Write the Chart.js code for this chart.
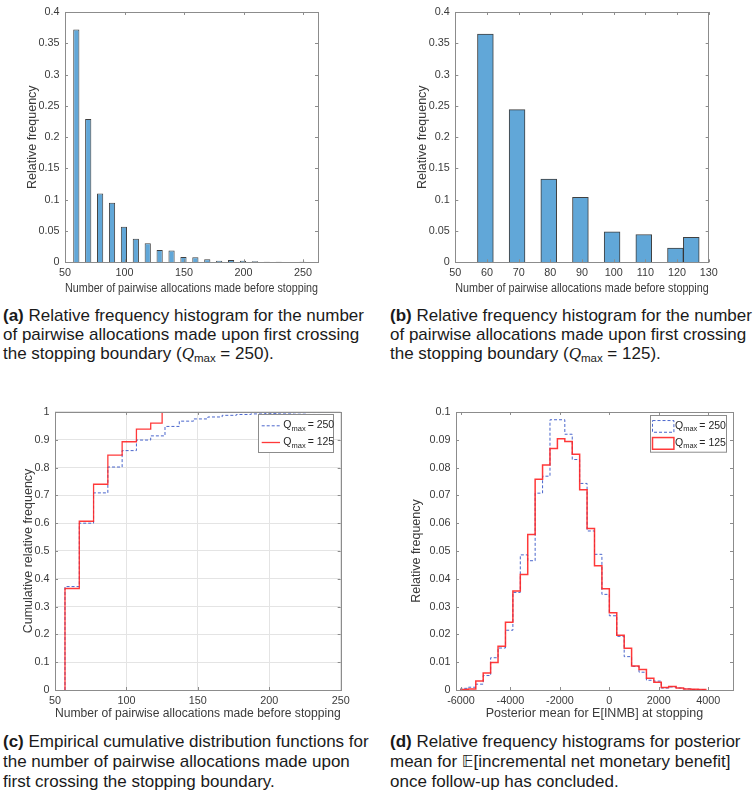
<!DOCTYPE html>
<html><head><meta charset="utf-8">
<script src="https://cdn.jsdelivr.net/npm/chart.js@4"></script>
<style>
html,body{margin:0;padding:0;background:#fff;}
body{width:754px;height:800px;position:relative;overflow:hidden;font-family:'Liberation Sans',Arial,sans-serif;}
canvas{position:absolute;}
.cap{position:absolute;font-size:17px;color:#1a1a1a;white-space:nowrap;}
.mq{font-family:'Liberation Serif','DejaVu Serif',serif;font-style:italic;}
.sb{font-size:11.5px;position:relative;top:3px;}
.bb{font-family:'DejaVu Sans',sans-serif;font-size:16px;}
</style></head><body>
<canvas id="ca" width="377" height="300" style="left:0;top:0"></canvas>
<canvas id="cb" width="377" height="300" style="left:377px;top:0"></canvas>
<canvas id="cc" width="377" height="330" style="left:0;top:400px"></canvas>
<canvas id="cd" width="377" height="330" style="left:377px;top:400px"></canvas>

<div class="cap" style="left:3px;top:307px;line-height:18.8px"><b>(a)</b> Relative frequency histogram for the number<br>of pairwise allocations made upon first crossing<br>the stopping boundary (<span class="mq">Q</span><span class="sb">max</span> = 250).</div>
<div class="cap" style="left:390px;top:307px;line-height:18.8px"><b>(b)</b> Relative frequency histogram for the number<br>of pairwise allocations made upon first crossing<br>the stopping boundary (<span class="mq">Q</span><span class="sb">max</span> = 125).</div>
<div class="cap" style="left:3px;top:732.4px;line-height:20px"><b>(c)</b> Empirical cumulative distribution functions for<br>the number of pairwise allocations made upon<br>first crossing the stopping boundary.</div>
<div class="cap" style="left:390px;top:732.4px;line-height:20px"><b>(d)</b> Relative frequency histograms for posterior<br>mean for <span class="bb">𝔼</span>[incremental net monetary benefit]<br>once follow-up has concluded.</div>

<script>
// ---------- data ----------
const xTitleAlloc = 'Number of pairwise allocations made before stopping';
const yTitleRel = 'Relative frequency';
const yTitleCum = 'Cumulative relative frequency';
const xTitleINMB = 'Posterior mean for E[INMB] at stopping';
const qmaxValues = [250, 125];

// (a) Qmax = 250 histogram (bin centres, relative frequency)
const binCentersA = [59.5,69.5,79.5,89.5,99.5,109.5,119.5,129.5,139.5,149.5,159.5,169.5,179.5,189.5,199.5,209.5,219.5,229.5,239.5,249.5];
const relFreqA = [0.372,0.229,0.110,0.095,0.057,0.0375,0.0306,0.0196,0.019,0.0085,0.008,0.0048,0.0026,0.0037,0.0026,0.0016,0.001,0.001,0.0005,0.001];

// (b) Qmax = 125 histogram
const binCentersB = [59.5,69.5,79.5,89.5,99.5,109.5,119.5,124.5];
const relFreqB = [0.3646,0.244,0.133,0.104,0.0486,0.0444,0.0227,0.040];

// (c) empirical CDFs
const cdfX250 = [57,67,77,87,97,107,117,127,137,147,157,167,177,187,197,207,217,227,237,247];
const cdfY250 = [0.372,0.600,0.709,0.802,0.861,0.899,0.914,0.948,0.967,0.975,0.982,0.988,0.991,0.993,0.995,0.996,0.997,0.998,0.999,1.0];
const cdfX125 = [57,67,77,87,97,107,117,125];
const cdfY125 = [0.365,0.607,0.740,0.845,0.893,0.938,0.960,1.0];

// (d) posterior mean histograms (bin edges, relative frequency per bin)
const inmbEdges = [-6000,-5700,-5400,-5100,-4800,-4500,-4200,-3900,-3600,-3300,-3000,-2700,-2400,-2100,-1800,-1500,-1200,-900,-600,-300,0,300,600,900,1200,1500,1800,2100,2400,2700,3000,3300,3600,3900];
const freqD250 = [0.0006,0.001,0.0021,0.0052,0.0116,0.0151,0.0215,0.0351,0.0486,0.0465,0.0708,0.0769,0.0972,0.0972,0.0920,0.0829,0.0743,0.0572,0.0488,0.0344,0.0267,0.0193,0.0120,0.0085,0.0064,0.0035,0.0032,0.0007,0.0011,0.0007,0.0004,0.0002,0.0001];
const freqD125 = [0.0002,0.0004,0.0032,0.0061,0.0099,0.0157,0.0244,0.0356,0.0415,0.0559,0.0758,0.0809,0.0869,0.0904,0.0894,0.0848,0.0720,0.0581,0.0447,0.0364,0.0278,0.0197,0.0150,0.0086,0.0074,0.0042,0.0028,0.0009,0.0013,0.0007,0.0004,0.0003,0.0002];
const xTicksD = [-6000,-4000,-2000,0,2000,4000];

// ---------- styling ----------
const FONT = "'Liberation Sans', Arial, sans-serif";
Chart.defaults.font.family = FONT;
Chart.defaults.font.size = 10.8;
Chart.defaults.color = '#3a3a3a';
const BOX = '#8c8c8c';
const BAR_FILL = '#61a7d8';
const BAR_EDGE = 'rgba(30,30,30,0.85)';
const RED = 'rgba(255,35,35,0.9)';
const BLUE = '#4a66cc';
const TITLE_SIZE = 12.5;

const boxPlugin = {
  id: 'matlabBox',
  afterDatasetsDraw(chart) {
    const {ctx, chartArea: a, scales} = chart;
    ctx.save();
    ctx.strokeStyle = BOX; ctx.lineWidth = 1;
    const L = 3;
    ctx.beginPath();
    scales.x.ticks.forEach(t => {
      const p = Math.round(scales.x.getPixelForValue(t.value)) + 0.5;
      ctx.moveTo(p, a.bottom); ctx.lineTo(p, a.bottom - L);
      ctx.moveTo(p, a.top); ctx.lineTo(p, a.top + L);
    });
    scales.y.ticks.forEach(t => {
      const p = Math.round(scales.y.getPixelForValue(t.value)) + 0.5;
      ctx.moveTo(a.left, p); ctx.lineTo(a.left + L, p);
      ctx.moveTo(a.right, p); ctx.lineTo(a.right - L, p);
    });
    ctx.stroke();
    ctx.strokeRect(Math.round(a.left) + 0.5, Math.round(a.top) + 0.5, Math.round(a.right - a.left), Math.round(a.bottom - a.top));
    ctx.restore();
  }
};

const legendPlugin = {
  id: 'qLegend',
  afterDraw(chart, args, o) {
    if (!o || !o.items) return;
    const {ctx, chartArea: a} = chart;
    ctx.save();
    const bx = Math.round(a.right - o.right - o.w), by = Math.round(a.top + o.top);
    ctx.fillStyle = '#fff'; ctx.fillRect(bx, by, o.w, o.h);
    ctx.strokeStyle = BOX; ctx.lineWidth = 1;
    ctx.strokeRect(bx + 0.5, by + 0.5, o.w, o.h);
    o.items.forEach((it, i) => {
      const cy = by + o.rowY[i];
      ctx.strokeStyle = it.color; ctx.lineWidth = it.width; ctx.setLineDash(it.dash || []);
      if (o.kind === 'line') {
        ctx.beginPath(); ctx.moveTo(bx + o.sx0, cy + 0.5); ctx.lineTo(bx + o.sx1, cy + 0.5); ctx.stroke();
      } else {
        ctx.strokeRect(bx + o.sx0 + 0.5, cy - o.rh / 2 + 0.5, o.sx1 - o.sx0, o.rh);
      }
      ctx.setLineDash([]);
      ctx.fillStyle = '#262626'; ctx.textBaseline = 'middle'; ctx.textAlign = 'left';
      let tx = bx + o.tx;
      ctx.font = "10.5px " + FONT; ctx.fillText('Q', tx, cy); tx += ctx.measureText('Q').width;
      ctx.font = "7.5px " + FONT; ctx.fillText('max', tx, cy + 3.5); tx += ctx.measureText('max').width + 2;
      ctx.font = "10.5px " + FONT; ctx.fillText('= ' + it.value, tx, cy);
    });
    ctx.restore();
  }
};

const fmt = v => String(+Number(v).toFixed(4));

function axisX(min, max, step, title, h, tbot, grid, fixedTicks) {
  const ax = {
    type: 'linear', min, max, offset: false,
    grid: {display: !!grid, color: '#e4e4e4', drawTicks: false},
    border: {display: false},
    ticks: {stepSize: step, includeBounds: false, autoSkip: false, maxRotation: 0, padding: 4.5, callback: fmt},
    title: {display: true, text: title, font: {size: TITLE_SIZE}, color: '#3a3a3a', padding: {top: 0, bottom: tbot}},
    afterFit: s => { s.height = h; }
  };
  if (fixedTicks) ax.afterBuildTicks = s => { s.ticks = fixedTicks.map(v => ({value: v})); };
  return ax;
}
function axisY(max, step, title, w, tpad, grid) {
  return {
    type: 'linear', min: 0, max,
    grid: {display: !!grid, color: '#e4e4e4', drawTicks: false},
    border: {display: false},
    ticks: {stepSize: step, includeBounds: false, autoSkip: false, padding: 5.5, callback: fmt},
    title: {display: true, text: title, font: {size: TITLE_SIZE}, color: '#3a3a3a', padding: {top: tpad, bottom: 0}},
    afterFit: s => { s.width = w; }
  };
}
const common = (pad) => ({
  responsive: false, animation: false, events: [],
  layout: {padding: pad},
  plugins: {legend: {display: false}, tooltip: {enabled: false}}
});

// (a)
new Chart(document.getElementById('ca'), {
  type: 'bar',
  data: {datasets: [{
    data: binCentersA.map((x, i) => ({x, y: relFreqA[i]})),
    backgroundColor: BAR_FILL, borderColor: BAR_EDGE, borderWidth: 1,
    barPercentage: 0.52, categoryPercentage: 1, borderSkipped: 'start'
  }]},
  options: Object.assign(common({top: 10, right: 59, left: 0, bottom: 0}), {
    scales: {
      x: axisX(50, 262.5, 50, xTitleAlloc, 37.7, 4.2),
      y: axisY(0.4, 0.05, yTitleRel, 65, 25.2)
    }
  }),
  plugins: [boxPlugin]
});

// (b)
new Chart(document.getElementById('cb'), {
  type: 'bar',
  data: {datasets: [{
    data: binCentersB.map((x, i) => ({x, y: relFreqB[i]})),
    backgroundColor: BAR_FILL, borderColor: BAR_EDGE, borderWidth: 1,
    barPercentage: 1, categoryPercentage: 1, borderSkipped: 'start'
  }]},
  options: Object.assign(common({top: 10, right: 45.3, left: 0, bottom: 0}), {
    scales: {
      x: axisX(50, 130, 10, xTitleAlloc, 37.7, 4.2),
      y: axisY(0.4, 0.05, yTitleRel, 78.3, 38.5)
    }
  }),
  plugins: [boxPlugin]
});

// (c)
const cdfPts = (xs, ys) => [{x: xs[0], y: 0}].concat(xs.map((x, i) => ({x, y: ys[i]})));
new Chart(document.getElementById('cc'), {
  type: 'line',
  data: {datasets: [
    {data: cdfPts(cdfX125, cdfY125), borderColor: RED, borderWidth: 1.3, stepped: 'before', pointRadius: 0, fill: false},
    {data: cdfPts(cdfX250, cdfY250), borderColor: BLUE, borderWidth: 1, borderDash: [3, 2], stepped: 'before', pointRadius: 0, fill: false}
  ]},
  options: Object.assign(common({top: 4, right: 36.3, left: 0, bottom: 0}), {
    scales: {
      x: axisX(50, 250, 50, xTitleAlloc, 40, 9, true),
      y: axisY(1, 0.1, yTitleCum, 55, 20.8, true)
    },
    plugins: {legend: {display: false}, tooltip: {enabled: false},
      qLegend: {kind: 'line', w: 75, h: 38, right: 7.7, top: 2, rowY: [11.3, 28], sx0: 3.7, sx1: 22, tx: 25.3,
        items: [
          {value: qmaxValues[0], color: BLUE, width: 1, dash: [3, 2]},
          {value: qmaxValues[1], color: RED, width: 1.3}
        ]}
    }
  }),
  plugins: [boxPlugin, legendPlugin]
});

// (d)
const stairPts = (edges, h) => {
  const pts = [{x: edges[0], y: 0}];
  h.forEach((v, i) => pts.push({x: edges[i], y: v}));
  pts.push({x: edges[edges.length - 1], y: 0});
  return pts;
};
new Chart(document.getElementById('cd'), {
  type: 'line',
  data: {datasets: [
    {data: stairPts(inmbEdges, freqD125), borderColor: RED, borderWidth: 1.5, stepped: 'before', pointRadius: 0, fill: false},
    {data: stairPts(inmbEdges, freqD250), borderColor: BLUE, borderWidth: 1, borderDash: [3, 2], stepped: 'before', pointRadius: 0, fill: false}
  ]},
  options: Object.assign(common({top: 7.3, right: 21, left: 0, bottom: 0}), {
    scales: {
      x: axisX(-6200, 5000, 2000, xTitleINMB, 40, 9, false, xTicksD),
      y: axisY(0.1, 0.01, yTitleRel, 79, 31.8)
    },
    plugins: {legend: {display: false}, tooltip: {enabled: false},
      qLegend: {kind: 'rect', w: 76, h: 36.7, right: 6.7, top: 2.7, rowY: [10.9, 27.9], rh: 11.7, sx0: 2, sx1: 23.4, tx: 25,
        items: [
          {value: qmaxValues[0], color: BLUE, width: 1, dash: [3, 2]},
          {value: qmaxValues[1], color: RED, width: 1.5}
        ]}
    }
  }),
  plugins: [boxPlugin, legendPlugin]
});
</script>
</body></html>
